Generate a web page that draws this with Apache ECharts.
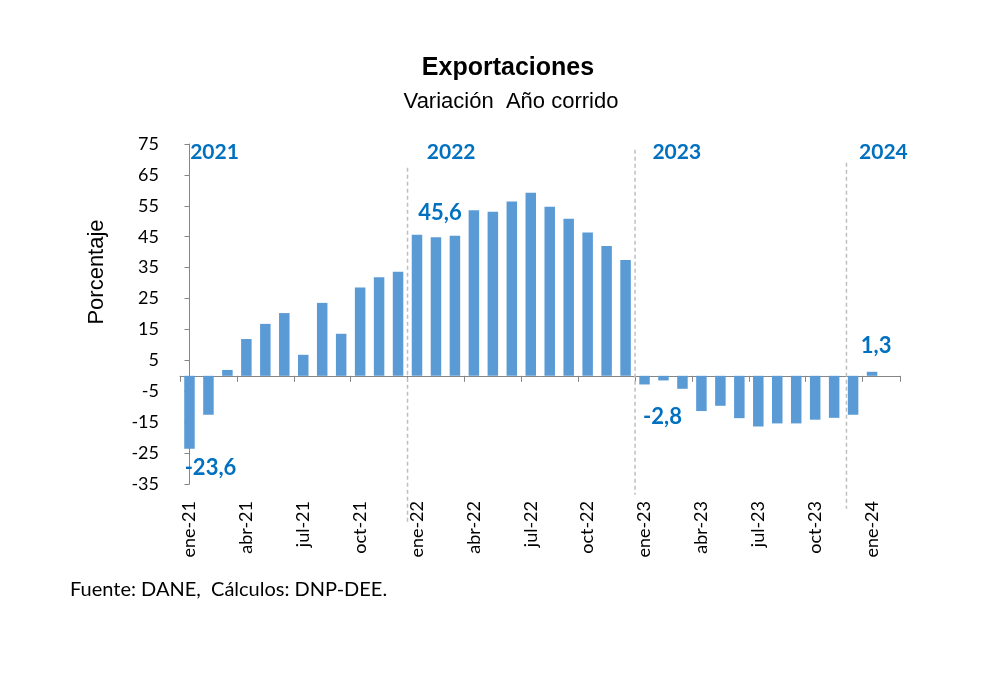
<!DOCTYPE html>
<html><head><meta charset="utf-8">
<script src="https://cdn.jsdelivr.net/npm/echarts@6/dist/echarts.min.js"></script>
<style>html,body{margin:0;padding:0;background:#fff}#c{width:1000px;height:678px}</style>
</head><body><div id="c"></div>
<script>
// ---- data ----
const categories = [
  'ene-21','feb-21','mar-21','abr-21','may-21','jun-21','jul-21','ago-21','sep-21','oct-21','nov-21','dic-21',
  'ene-22','feb-22','mar-22','abr-22','may-22','jun-22','jul-22','ago-22','sep-22','oct-22','nov-22','dic-22',
  'ene-23','feb-23','mar-23','abr-23','may-23','jun-23','jul-23','ago-23','sep-23','oct-23','nov-23','dic-23',
  'ene-24','feb-24'
];
const values = [
  -23.6, -12.6, 1.9, 11.9, 16.8, 20.3, 6.8, 23.6, 13.6, 28.6, 31.9, 33.7,
  45.6, 44.8, 45.3, 53.6, 53.1, 56.4, 59.2, 54.7, 50.8, 46.4, 42.0, 37.5,
  -2.8, -1.5, -4.2, -11.4, -9.7, -13.7, -16.4, -15.4, -15.4, -14.2, -13.6, -12.6,
  1.3, null
];
const labeledIndices = [0, 12, 24, 36];
const yearNames = ['2021', '2022', '2023', '2024'];
const yMin = -35, yMax = 75, yStep = 10;

// ---- annotations (in data units) ----
const yearLabelAt = [[1.32, 72.2], [13.8, 72.2], [25.7, 72.2], [36.6, 72.2]];
const separatorLines = [[11.5, 67.3, -47.2], [23.5, 73.1, -38.5], [34.65, 68.9, -43]];

// ---- styles ----
const BLUE = '#0070C0';
const labelPlacement = {
  0:  {position: 'bottom', distance: 8,  offset: [21, 0]},
  12: {position: 'top',    distance: 11, offset: [23, 0]},
  24: {position: 'bottom', distance: 21, offset: [18, 0]},
  36: {position: 'top',    distance: 15, offset: [4, 0]}
};
const barData = values.map((v, i) => {
  if (labeledIndices.indexOf(i) < 0) return v;
  return {
    value: v,
    label: Object.assign({
      show: true,
      formatter: p => String(p.value).replace('.', ','),
      color: BLUE, fontFamily: 'Lato', fontWeight: 'bold', fontSize: 22
    }, labelPlacement[i])
  };
});

const chart = echarts.init(document.getElementById('c'), null, {renderer: 'canvas'});
const axisGray = '#868686';
chart.setOption({
  animation: false,
  backgroundColor: '#fff',
  grid: {left: 180, right: 99.5, top: 144, bottom: 194, containLabel: false, outerBoundsMode: 'none'},
  xAxis: [
    {
      type: 'category', data: categories, position: 'bottom',
      axisLine: {show: true, onZero: true, lineStyle: {color: axisGray, width: 1}},
      axisTick: {show: true, interval: 2, length: 6, lineStyle: {color: axisGray}},
      axisLabel: {show: false}, splitLine: {show: false}
    },
    {
      type: 'category', data: categories, position: 'bottom',
      axisLine: {show: false, onZero: false}, axisTick: {show: false},
      axisLabel: {show: true, interval: 2, rotate: 90, margin: 17,
        fontFamily: 'Lato', fontSize: 18, color: '#000'},
      splitLine: {show: false}
    },
    {type: 'value', min: -0.5, max: categories.length - 0.5, show: false}
  ],
  yAxis: [{
    type: 'value', min: yMin, max: yMax, interval: yStep,
    axisLine: {show: true, lineStyle: {color: axisGray, width: 1}},
    axisTick: {show: true, length: 5, lineStyle: {color: axisGray}},
    axisLabel: {fontFamily: 'Lato', fontSize: 18, color: '#000', margin: 21},
    splitLine: {show: false}
  }],
  series: [
    {
      type: 'bar', xAxisIndex: 0, yAxisIndex: 0, data: barData,
      barWidth: 10.5, itemStyle: {color: '#5B9BD5'}, silent: true
    },
    {
      type: 'custom', xAxisIndex: 2, yAxisIndex: 0, clip: false, silent: true,
      data: separatorLines, encode: {x: 0, y: 1},
      renderItem: (params, api) => {
        const a = api.coord([api.value(0), api.value(1)]);
        const b = api.coord([api.value(0), api.value(2)]);
        return {type: 'line', shape: {x1: a[0], y1: a[1], x2: b[0], y2: b[1]},
          style: {stroke: '#BFBFBF', lineWidth: 1.5, lineDash: [4, 3]}};
      }
    },
    {
      type: 'custom', xAxisIndex: 2, yAxisIndex: 0, clip: false, silent: true,
      data: yearLabelAt, encode: {x: 0, y: 1},
      renderItem: (params, api) => {
        const p = api.coord([api.value(0), api.value(1)]);
        return {type: 'text', x: p[0], y: p[1],
          style: {text: yearNames[params.dataIndex], fill: BLUE, fontFamily: 'Lato',
            fontWeight: 'bold', fontSize: 21, align: 'center', verticalAlign: 'middle',
            textAlign: 'center', textVerticalAlign: 'middle'}};
      }
    }
  ],
  graphic: [
    {type: 'text', x: 508, y: 68, style: {text: 'Exportaciones', fill: '#000',
      font: 'bold 25px "Liberation Sans", Arial, sans-serif', align: 'center', verticalAlign: 'middle',
      textAlign: 'center', textVerticalAlign: 'middle'}},
    {type: 'text', x: 511, y: 102, style: {text: 'Variación  Año corrido', fill: '#000',
      font: '22px "Liberation Sans", Arial, sans-serif', align: 'center', verticalAlign: 'middle',
      textAlign: 'center', textVerticalAlign: 'middle'}},
    {type: 'text', x: 97, y: 272, rotation: Math.PI / 2, style: {text: 'Porcentaje', fill: '#000',
      font: '22px "Liberation Sans", Arial, sans-serif', align: 'center', verticalAlign: 'middle',
      textAlign: 'center', textVerticalAlign: 'middle'}},
    {type: 'text', x: 70, y: 590, style: {text: 'Fuente: DANE,  Cálculos: DNP-DEE.', fill: '#000',
      font: '20px Lato, sans-serif', align: 'left', verticalAlign: 'middle',
      textAlign: 'left', textVerticalAlign: 'middle'}}
  ]
});
</script>
</body></html>
